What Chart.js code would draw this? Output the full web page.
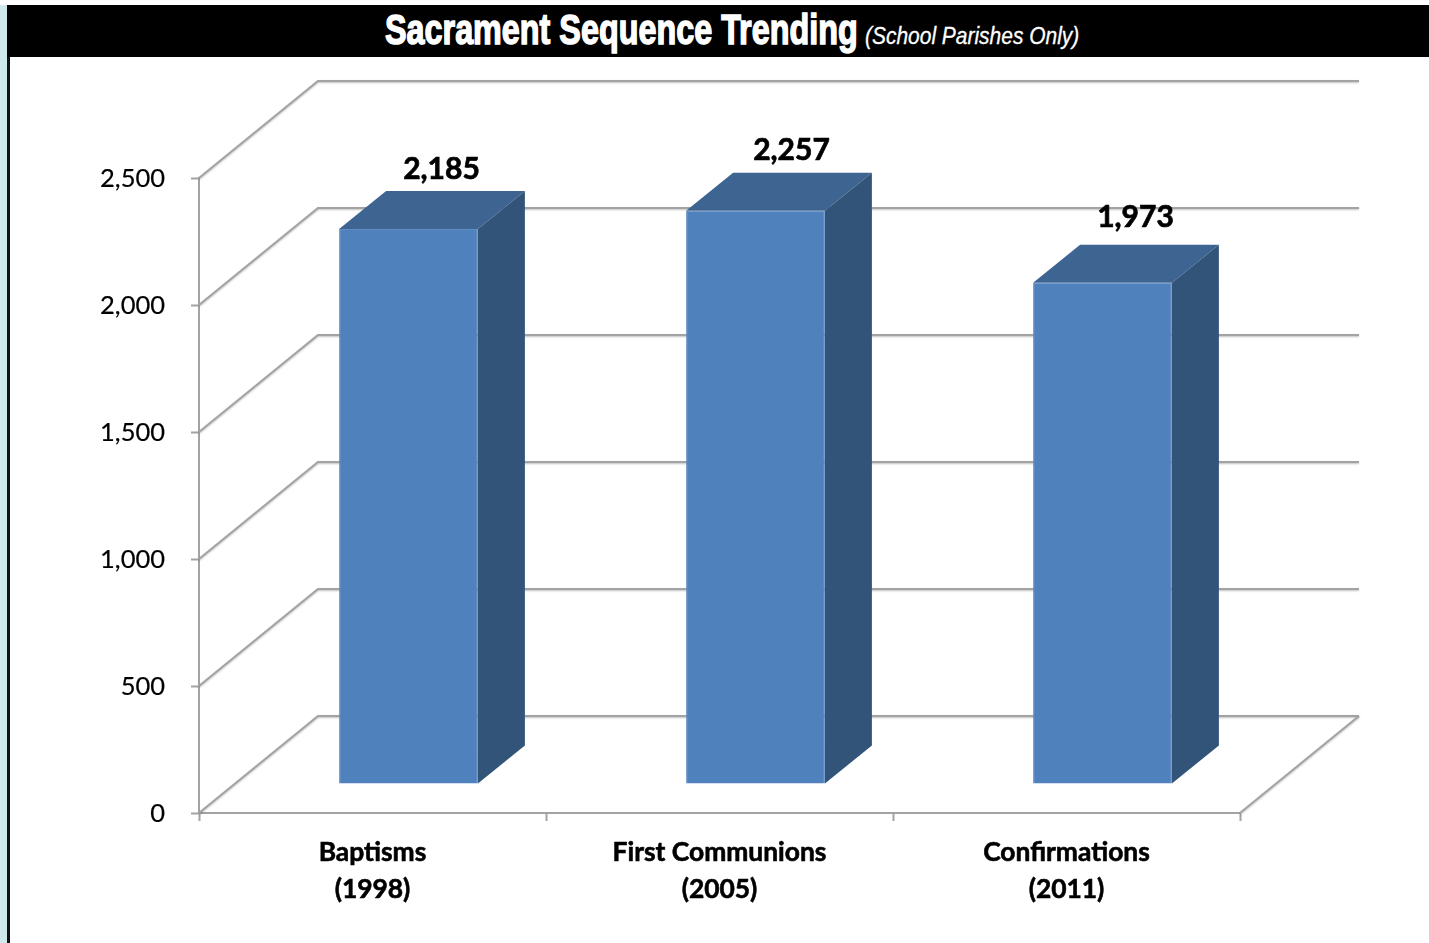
<!DOCTYPE html>
<html>
<head>
<meta charset="utf-8">
<title>Sacrament Sequence Trending</title>
<script src="https://cdn.jsdelivr.net/npm/chart.js@4"></script>
<style>
  html, body { margin: 0; padding: 0; background: #fff; overflow: hidden; }
  #page { position: relative; width: 1429px; height: 943px; overflow: hidden; }
  #strip { position: absolute; left: 0; top: 5px; width: 7px; bottom: 0; background: #cfe9ea; }
  #rule { position: absolute; left: 7px; top: 57px; width: 3px; bottom: 0; background: #111; }
  #band { position: absolute; left: 7px; right: 0; top: 5px; height: 52px; background: #000; color: #fff; }
  #band span { position: absolute; white-space: nowrap; transform-origin: left center; }
  #main { left: 378px; top: 1px; font: bold 42px "Liberation Sans", sans-serif; -webkit-text-stroke: 1.5px #fff; transform: scaleX(0.77); }
  #sub { left: 858px; top: 17px; font: italic 24px "Liberation Sans", sans-serif; -webkit-text-stroke: 0.3px #fff; transform: scaleX(0.873); }
  canvas { position: absolute; left: 0; top: 0; }
</style>
</head>
<body>
<div id="page">
  <div id="strip"></div>
  <div id="rule"></div>
  <div id="band">
    <span id="main">Sacrament Sequence Trending</span>
    <span id="sub">(School Parishes Only)</span>
  </div>
  <canvas id="chart" width="1429" height="943"></canvas>
</div>
<script>
const categories = [['Baptisms', '(1998)'], ['First Communions', '(2005)'], ['Confirmations', '(2011)']]
const values = [2185, 2257, 1973]
const yTicks = [0, 500, 1000, 1500, 2000, 2500]

const gridColor = '#a3a3a3'
// how far the back wall sits from the front plane
const wallDepth = { x: 119, y: -97 }
// bars stand inside the floor, not on its front edge
const barInset = { x: 36, y: -29 }
const barDepth = { x: 47, y: -38 }
// value labels were placed by hand in the original, so they are not evenly spaced
const labelNudge = [{ x: 69, y: -89 }, { x: 72, y: -89 }, { x: 69, y: -95 }]

const fmt = (v) => v.toLocaleString('en-US')

const poly = (ctx, pts, fill) => {
  ctx.beginPath()
  pts.forEach(([x, y], i) => (i ? ctx.lineTo(x, y) : ctx.moveTo(x, y)))
  ctx.closePath()
  ctx.fillStyle = fill
  ctx.fill()
}

const fake3d = {
  id: 'fake3d',
  beforeDatasetsDraw(chart) {
    const { ctx, chartArea, scales } = chart
    const { left, right, bottom } = chartArea

    ctx.save()
    ctx.strokeStyle = gridColor
    ctx.lineWidth = 2
    ctx.shadowColor = 'rgba(0,0,0,0.25)'
    ctx.shadowBlur = 2
    ctx.shadowOffsetY = 1
    yTicks.forEach((t) => {
      const y = scales.y.getPixelForValue(t)
      ctx.beginPath()
      ctx.moveTo(left, y)
      ctx.lineTo(left + wallDepth.x, y + wallDepth.y)
      ctx.lineTo(right + wallDepth.x, y + wallDepth.y)
      ctx.stroke()
    })
    ctx.beginPath()
    ctx.moveTo(right, bottom)
    ctx.lineTo(right + wallDepth.x, bottom + wallDepth.y)
    ctx.stroke()
    ctx.restore()

    ctx.save()
    ctx.translate(barInset.x, barInset.y)
    chart.getDatasetMeta(0).data.forEach((bar) => {
      const l = bar.x - bar.width / 2
      const r = bar.x + bar.width / 2
      const d = barDepth
      poly(ctx, [[l, bar.y], [r, bar.y], [r + d.x, bar.y + d.y], [l + d.x, bar.y + d.y]], '#3e6491')
      poly(ctx, [[r, bar.y], [r + d.x, bar.y + d.y], [r + d.x, bar.base + d.y], [r, bar.base]], '#335479')
    })
  },
  afterDatasetsDraw(chart) {
    const { ctx } = chart
    ctx.restore()
    ctx.save()
    ctx.font = 'bold 30px Lato'
    ctx.fillStyle = '#000'
    ctx.strokeStyle = '#000'
    ctx.lineWidth = 0.7
    ctx.textAlign = 'center'
    ctx.textBaseline = 'middle'
    chart.getDatasetMeta(0).data.forEach((bar, i) => {
      const x = bar.x + labelNudge[i].x
      const y = bar.y + labelNudge[i].y
      ctx.fillText(fmt(values[i]), x, y)
      ctx.strokeText(fmt(values[i]), x, y)
    })
    ctx.restore()
  },
}

new Chart(document.getElementById('chart').getContext('2d'), {
  type: 'bar',
  data: {
    labels: categories,
    datasets: [{
      data: values,
      backgroundColor: '#4f81bd',
      borderColor: '#5f8cc3',
      borderWidth: 1,
      barPercentage: 0.4,
      categoryPercentage: 1,
    }],
  },
  options: {
    responsive: false,
    animation: false,
    layout: { padding: { left: 0, top: 178, right: 189, bottom: 0 } },
    plugins: { legend: { display: false }, tooltip: { enabled: false } },
    scales: {
      x: {
        afterFit: (axis) => { axis.height = 130 },
        border: { color: gridColor, width: 2 },
        grid: { drawOnChartArea: false, tickLength: 8, tickColor: gridColor, tickWidth: 2 },
        ticks: {
          color: '#000',
          padding: 13,
          maxRotation: 0,
          textStrokeColor: '#000',
          textStrokeWidth: 0.6,
          font: { family: 'Lato', size: 26.4, weight: 'bold', lineHeight: 1.4 },
        },
      },
      y: {
        min: 0,
        max: 2500,
        afterFit: (axis) => { axis.width = 199 },
        afterBuildTicks: (axis) => { axis.ticks = yTicks.map((value) => ({ value })) },
        border: { color: gridColor, width: 2 },
        grid: { drawOnChartArea: false, tickLength: 8, tickColor: gridColor, tickWidth: 2 },
        ticks: {
          color: '#000',
          padding: 26,
          labelOffset: 1,
          textStrokeColor: '#000',
          textStrokeWidth: 0.2,
          callback: fmt,
          font: { family: 'Lato', size: 25.5 },
        },
      },
    },
  },
  plugins: [fake3d],
})
</script>
</body>
</html>
